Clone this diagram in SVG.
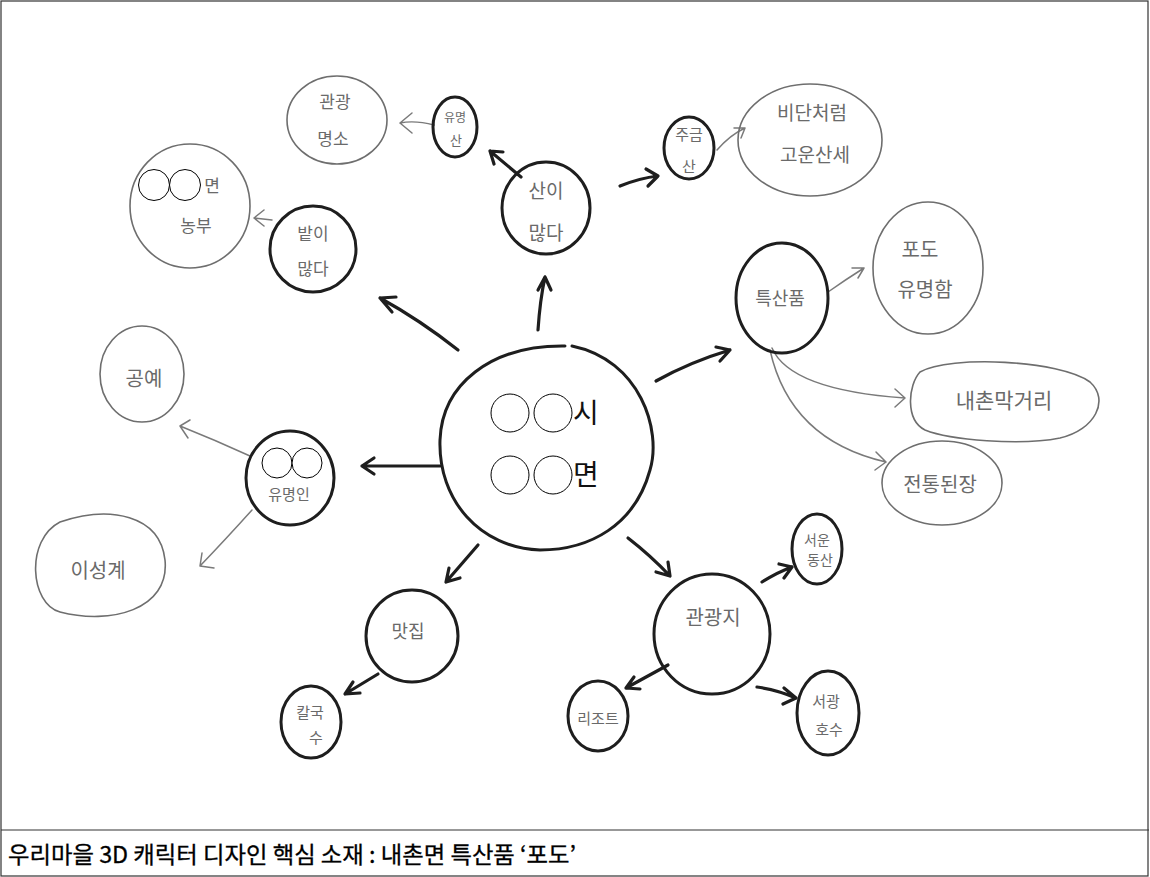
<svg xmlns="http://www.w3.org/2000/svg" width="1150" height="877" viewBox="0 0 1150 877">
<defs>
<style>
.bold{fill:none;stroke:#1e1e1e;stroke-width:3;stroke-linecap:round}
.thin{fill:none;stroke:#6e6e6e;stroke-width:1.6;stroke-linecap:round}
.ba{fill:none;stroke:#1e1e1e;stroke-width:3.2;stroke-linecap:round;stroke-linejoin:round}
.ta{fill:none;stroke:#7a7a7a;stroke-width:1.5;stroke-linecap:round;stroke-linejoin:round}
.hw{font-family:"Noto Sans CJK KR","Noto Sans",sans-serif;fill:#6a6a6a;text-anchor:middle}
.ph{fill:#fff;stroke:#000;stroke-width:1}
.ct{font-family:"Noto Sans CJK KR","Noto Sans",sans-serif;fill:#111;font-size:28px}
.cap{font-family:"Noto Sans CJK KR","Noto Sans",sans-serif;fill:#000;font-size:23px;stroke:#000;stroke-width:0.3}
</style>
</defs>
<rect x="0" y="0" width="1150" height="877" fill="#fff"/>
<rect x="1" y="1" width="1147" height="875" fill="none" stroke="#333" stroke-width="1.2"/>
<line x1="1" y1="830" x2="1149" y2="830" stroke="#333" stroke-width="1.2"/>
<text class="cap" x="8" y="863" textLength="568" lengthAdjust="spacingAndGlyphs">우리마을 3D 캐릭터 디자인 핵심 소재 : 내촌면 특산품 ‘포도’</text>

<g id="connectors">
<path class="ba" d="M458,350 Q420,320 380,298 M380,298 L392,312 M380,298 L396,297"/>
<path class="ba" d="M538,330 Q540,300 545,277 M545,277 L538,290 M545,277 L551,290"/>
<path class="ba" d="M656,381 Q690,362 730,350 M730,350 L716,347 M730,350 L720,361"/>
<path class="ba" d="M440,466 L362,466 M362,466 L374,458 M362,466 L374,474"/>
<path class="ba" d="M478,545 L446,582 M446,582 L449,568 M446,582 L460,578"/>
<path class="ba" d="M628,538 Q650,555 670,576 M670,576 L656,572 M670,576 L668,562"/>
<path class="ba" d="M521,177 L490,151 M490,151 L503,152 M490,151 L494,164"/>
<path class="ba" d="M620,186 Q640,178 658,176 M658,176 L646,169 M658,176 L648,186"/>
<path class="ba" d="M378,674 L345,694 M345,694 L353,682 M345,694 L360,693"/>
<path class="ba" d="M762,582 Q778,572 792,567 M792,567 L779,564 M792,567 L784,578"/>
<path class="ba" d="M668,665 L626,688 M626,688 L634,677 M626,688 L640,689"/>
<path class="ba" d="M757,687 Q778,690 796,698 M796,698 L784,688 M796,698 L783,704"/>
<path class="ta" d="M434,125 Q415,120 400,123 M400,123 L412,113 M400,123 L412,133"/>
<path class="ta" d="M717,150 Q730,135 745,128 M745,128 L734,128 M745,128 L741,138"/>
<path class="ta" d="M272,220 L254,218 M254,218 L264,210 M254,218 L264,226"/>
<path class="ta" d="M828,292 Q845,280 864,268 M864,268 L852,268 M864,268 L858,278"/>
<path class="ta" d="M772,348 Q790,390 905,398 M905,398 L895,389 M905,398 L895,407"/>
<path class="ta" d="M770,350 Q790,440 886,462 M886,462 L876,452 M886,462 L875,470"/>
<path class="ta" d="M250,456 Q215,440 180,426 M180,426 L190,420 M180,426 L188,438"/>
<path class="ta" d="M252,510 Q225,540 200,566 M200,566 L202,553 M200,566 L214,568"/>
</g>

<g id="center">
<path class="bold" d="M572,346 C640,360 662,430 650,470 C635,525 590,550 540,550 C480,548 438,500 440,440 C442,385 490,345 565,346" stroke-width="2.6"/>
<circle class="ph" cx="510" cy="413" r="19"/><circle class="ph" cx="553" cy="413" r="19"/>
<text class="ct" x="573" y="423">시</text>
<circle class="ph" cx="510" cy="475" r="19"/><circle class="ph" cx="553" cy="475" r="19"/>
<text class="ct" x="573" y="485">면</text>
</g>

<g id="n-san"><ellipse class="bold" cx="546" cy="208" rx="44" ry="46"/><text class="hw" x="546" y="198" font-size="19">산이</text><text class="hw" x="546" y="240" font-size="19">많다</text></g>
<g id="n-yumyeongsan"><ellipse class="bold" cx="455" cy="127" rx="22" ry="30"/><text class="hw" x="455" y="122" font-size="12">유명</text><text class="hw" x="456" y="145" font-size="13">산</text></g>
<g id="n-gwangwang"><ellipse class="thin" cx="337" cy="120" rx="50" ry="44"/><text class="hw" x="335" y="108" font-size="17">관광</text><text class="hw" x="333" y="145" font-size="17">명소</text></g>
<g id="n-jugeum"><ellipse class="bold" cx="689" cy="148" rx="25" ry="31"/><text class="hw" x="689" y="140" font-size="15">주금</text><text class="hw" x="689" y="172" font-size="15">산</text></g>
<g id="n-bidan"><ellipse class="thin" cx="810" cy="140" rx="72" ry="56"/><text class="hw" x="812" y="120" font-size="19">비단처럼</text><text class="hw" x="815" y="162" font-size="19">고운산세</text></g>
<g id="n-bat"><ellipse class="bold" cx="313" cy="249" rx="43" ry="43"/><text class="hw" x="313" y="240" font-size="17">밭이</text><text class="hw" x="313" y="275" font-size="17">많다</text></g>
<g id="n-nongbu"><ellipse class="thin" cx="190" cy="206" rx="60" ry="62"/>
<circle class="ph" cx="154" cy="185" r="15.5"/><circle class="ph" cx="185" cy="185" r="15.5"/>
<text class="hw" x="212" y="192" font-size="17">면</text><text class="hw" x="196" y="232" font-size="17">농부</text></g>
<g id="n-teuksan"><ellipse class="bold" cx="782" cy="298" rx="46" ry="55"/><text class="hw" x="780" y="305" font-size="18">특산품</text></g>
<g id="n-podo"><ellipse class="thin" cx="928" cy="268" rx="55" ry="66"/><text class="hw" x="920" y="257" font-size="20">포도</text><text class="hw" x="925" y="297" font-size="20">유명함</text></g>
<g id="n-makgeolli"><path class="thin" d="M920,372 C950,355 1060,360 1090,382 C1110,400 1095,430 1060,438 C1020,446 950,440 925,430 C905,420 908,385 920,372 Z"/><text class="hw" x="1004" y="408" font-size="21">내촌막거리</text></g>
<g id="n-doenjang"><ellipse class="thin" cx="942" cy="483" rx="60" ry="42"/><text class="hw" x="940" y="492" font-size="20">전통된장</text></g>
<g id="n-yumyeongin"><ellipse class="bold" cx="290" cy="478" rx="44" ry="47"/>
<circle class="ph" cx="277" cy="463" r="15"/><circle class="ph" cx="307" cy="463" r="15"/>
<text class="hw" x="289" y="500" font-size="15">유명인</text></g>
<g id="n-gongye"><ellipse class="thin" cx="142" cy="374" rx="42" ry="48"/><text class="hw" x="144" y="386" font-size="20">공예</text></g>
<g id="n-iseonggye"><path class="thin" d="M60,522 C110,505 160,515 165,560 C170,610 110,625 60,612 C30,604 25,540 60,522 Z"/><text class="hw" x="98" y="578" font-size="20">이성계</text></g>
<g id="n-matjip"><ellipse class="bold" cx="412" cy="636" rx="46" ry="46"/><text class="hw" x="408" y="638" font-size="18">맛집</text></g>
<g id="n-kalguksu"><ellipse class="bold" cx="311" cy="722" rx="30" ry="36"/><text class="hw" x="310" y="718" font-size="15">칼국</text><text class="hw" x="316" y="743" font-size="15">수</text></g>
<g id="n-gwangwangji"><ellipse class="bold" cx="712" cy="634" rx="58" ry="60"/><text class="hw" x="713" y="625" font-size="20">관광지</text></g>
<g id="n-resort"><ellipse class="bold" cx="598" cy="716" rx="30" ry="35"/><text class="hw" x="598" y="724" font-size="15">리조트</text></g>
<g id="n-seoun"><ellipse class="bold" cx="817" cy="549" rx="25" ry="35"/><text class="hw" x="817" y="545" font-size="14">서운</text><text class="hw" x="820" y="565" font-size="14">동산</text></g>
<g id="n-hosu"><ellipse class="bold" cx="828" cy="713" rx="31" ry="42"/><text class="hw" x="826" y="707" font-size="15">서광</text><text class="hw" x="829" y="735" font-size="15">호수</text></g>
</svg>
